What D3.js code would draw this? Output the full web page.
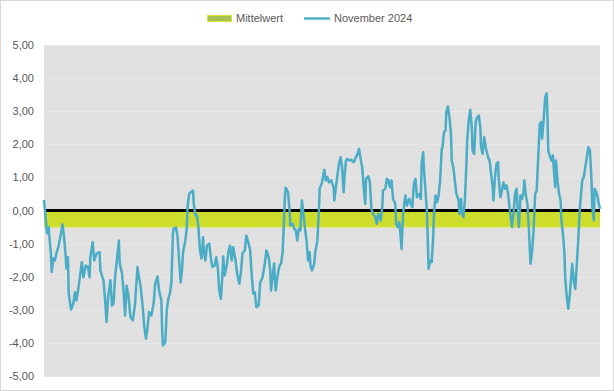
<!DOCTYPE html>
<html>
<head>
<meta charset="utf-8">
<script src="https://cdn.jsdelivr.net/npm/d3@7/dist/d3.min.js"></script>
<style>
  html, body { margin: 0; padding: 0; background: #fff; }
  svg { display: block; font-family: "Liberation Sans", Arial, sans-serif; }
</style>
</head>
<body>
<svg id="chart" width="614" height="391"></svg>
<script>
// ---------- Data ----------
const seriesNames = ["Mittelwert", "November 2024"];
const yTickValues = [5, 4, 3, 2, 1, 0, -1, -2, -3, -4, -5];
const mittelwertBand = [0, -0.5];
const nullLinie = 0;
const stunden = [
  0,3,4,6,7,9,10,12,14,16,19,22,24,26,28,29,31,32,35,38,40,42,45,49,51,54,57,59,60,63,
  65,68,72,73,77,79,81,83,86,88,90,92,95,97,98,101,103,105,107,109,112,115,118,121,123,125,128,130,132,134,
  136,139,142,144,147,149,152,153,154,157,159,161,163,165,167,168,171,173,175,177,179,180,183,185,186,188,190,193,194,196,
  198,200,202,204,206,207,209,211,214,216,218,221,223,225,227,229,231,232,234,237,239,241,243,245,248,250,253,255,257,260,
  262,265,267,269,271,273,275,278,280,283,286,288,291,293,294,296,298,300,303,305,307,309,311,312,313,316,318,319,322,324,
  326,328,330,332,334,336,338,340,342,344,345,347,350,351,354,356,357,360,363,365,367,369,372,375,376,378,380,382,384,386,
  388,389,391,393,395,398,401,403,406,408,410,412,414,416,417,420,422,424,426,429,431,433,436,438,439,442,444,446,448,450,
  452,455,456,458,460,461,463,465,467,468,470,473,475,477,479,481,483,486,488,489,491,492,494,496,497,498,500,502,504,505,
  507,509,511,513,515,516,518,520,521,523,525,527,528,530,532,534,537,538,540,541,543,545,547,548,550,552,554,555,557,559,
  560,563,565,566,568,570,572,575,577,579,581,582,584,586,588,589,591,593,595,597,599,601,603,606,608,610,612,613,615,617,
  619,621,622,624,626,628,630,632,634,636,638,640,642,644,645,647,649,651,652,653,655,657,659,662,663,665,667,669,670,672,
  674,675,677,679,681,683,684,686,688,690,692,694,697,699,701,703,705,707,709,710,712,713,716,718,720
];
const werteNov2024 = [
  0.32,-0.45,-0.69,-0.50,-0.81,-1.30,-1.86,-1.45,-1.51,-1.30,-1.06,-0.69,-0.42,-0.81,-1.36,-1.75,-1.41,-2.51,-2.99,-2.81,-2.47,-2.72,-2.27,-1.56,-2.02,-1.66,-1.71,-2.02,-1.41,-0.96,
  -1.51,-1.30,-1.26,-1.81,-2.11,-2.66,-3.37,-2.62,-2.11,-2.87,-2.81,-2.02,-1.36,-0.91,-1.60,-1.90,-2.42,-3.17,-2.27,-2.51,-3.22,-3.32,-2.81,-1.71,-2.02,-2.27,-2.96,-3.53,-3.87,-3.56,
  -3.07,-3.17,-2.81,-2.21,-1.99,-2.42,-2.72,-3.63,-4.08,-3.98,-3.02,-2.66,-2.51,-2.17,-0.69,-0.54,-0.51,-0.81,-1.51,-2.17,-1.71,-1.26,-0.91,-0.50,0.15,0.50,0.55,0.60,0.20,-0.15,
  -0.15,-0.50,-1.21,-1.45,-0.81,-1.21,-1.51,-1.06,-1.00,-1.41,-1.71,-1.66,-1.41,-1.71,-2.42,-2.67,-1.96,-1.39,-1.96,-1.60,-1.21,-1.06,-1.51,-1.11,-1.51,-1.90,-2.21,-1.86,-1.30,-1.21,
  -0.76,-1.00,-1.21,-1.96,-2.51,-2.47,-2.92,-2.87,-2.17,-2.02,-1.60,-1.21,-1.41,-1.81,-2.42,-2.02,-1.60,-2.42,-1.90,-1.66,-1.60,-1.26,-0.20,0.45,0.69,0.55,0.00,-0.45,-0.40,-0.55,
  -0.60,-0.91,-0.55,-0.60,0.30,-0.10,-0.55,-0.91,-1.51,-1.26,-1.66,-1.81,-1.60,-1.30,-0.91,0.00,0.66,0.85,1.23,0.91,1.01,0.85,0.91,0.70,0.30,0.70,1.06,1.41,1.61,1.31,
  0.55,0.96,1.51,1.56,1.51,1.53,1.46,1.56,1.71,1.86,1.56,1.31,0.70,0.20,0.96,1.03,0.85,0.05,-0.10,-0.20,-0.40,-0.10,-0.30,0.10,0.60,0.66,0.96,0.91,0.70,0.91,
  0.35,0.20,-0.40,-0.50,-0.35,-0.55,-1.16,-0.10,0.30,0.45,0.15,0.35,0.20,0.10,0.81,0.96,0.40,0.50,0.35,1.41,1.76,1.26,0.60,-0.10,-0.91,-1.76,-1.51,-1.56,-0.81,-0.10,
  0.45,0.25,0.45,0.91,1.86,1.91,2.37,2.42,2.97,3.14,2.82,2.32,1.51,1.31,0.91,0.50,0.30,-0.10,0.35,-0.05,-0.20,0.30,1.41,2.11,2.72,3.04,2.52,1.81,1.71,2.67,
  2.77,2.87,2.52,1.91,1.71,2.21,1.91,1.61,1.51,1.11,0.70,0.30,1.01,1.41,1.46,0.91,0.40,0.60,0.85,0.66,0.76,0.50,0.05,-0.50,-0.10,0.50,0.66,0.20,-0.50,0.45,
  0.35,0.55,0.91,0.45,0.20,-0.60,-1.61,-1.26,-0.60,0.50,0.60,1.61,2.62,2.67,2.17,2.72,3.42,3.54,2.82,1.81,1.66,1.51,1.66,0.70,1.51,0.91,0.50,0.30,-0.30,-0.70,
  -1.31,-2.06,-2.62,-2.97,-2.52,-1.91,-1.61,-2.11,-2.37,-1.61,-0.81,0.10,0.91,1.01,1.31,1.61,1.91,1.81,0.91,0.10,-0.30,0.66,0.50,0.25,0.05
];

// ---------- Layout ----------
const W = 614, H = 391;
const plot = { left: 44, right: 600, top: 45, bottom: 376 };
const svg = d3.select("#chart");

const x = d3.scaleLinear().domain([0, 720]).range([plot.left, plot.right]);
const y = d3.scaleLinear().domain([-5, 5]).range([plot.bottom, plot.top]);

const de = d3.formatLocale({ decimal: ",", thousands: ".", grouping: [3], currency: ["", " €"], minus: "-" });
const fmt = de.format(".2f");

// outer border
svg.append("rect").attr("x", 0.5).attr("y", 0.5).attr("width", W - 1).attr("height", H - 1)
  .attr("fill", "#fff").attr("stroke", "#d9d9d9");

// hatch pattern
const defs = svg.append("defs");
const pat = defs.append("pattern").attr("id", "hatch").attr("patternUnits", "userSpaceOnUse")
  .attr("width", 4).attr("height", 4);
pat.append("rect").attr("width", 4).attr("height", 4).attr("fill", "#e2e2e2");
pat.append("path").attr("d", "M-1,-1 L5,5 M-1,3 L1,5 M3,-1 L5,1").attr("stroke", "#dcdcdc").attr("stroke-width", 1);

svg.append("rect")
  .attr("x", plot.left).attr("y", plot.top)
  .attr("width", plot.right - plot.left).attr("height", plot.bottom - plot.top)
  .attr("fill", "url(#hatch)");

// gridlines
svg.append("g").selectAll("line").data(yTickValues).join("line")
  .attr("x1", plot.left).attr("x2", plot.right)
  .attr("y1", d => Math.round(y(d)) + 0.5).attr("y2", d => Math.round(y(d)) + 0.5)
  .attr("stroke", "#e7e7e7").attr("stroke-width", 1);

// Mittelwert band
svg.append("rect")
  .attr("x", plot.left).attr("width", plot.right - plot.left)
  .attr("y", y(mittelwertBand[0])).attr("height", y(mittelwertBand[1]) - y(mittelwertBand[0]))
  .attr("fill", "#cedd2b");
svg.append("line")
  .attr("x1", plot.left).attr("x2", plot.right)
  .attr("y1", y(mittelwertBand[1])).attr("y2", y(mittelwertBand[1]))
  .attr("stroke", "#dfe758").attr("stroke-width", 1.2);

// zero line
svg.append("line")
  .attr("x1", plot.left).attr("x2", plot.right)
  .attr("y1", y(nullLinie)).attr("y2", y(nullLinie))
  .attr("stroke", "#000").attr("stroke-width", 3);

// series line
const data = stunden.map((h, i) => ({ h, v: werteNov2024[i] }));
svg.append("path").datum(data)
  .attr("fill", "none").attr("stroke", "#4bacc6").attr("stroke-width", 2.5)
  .attr("stroke-linejoin", "round")
  .attr("d", d3.line().x(d => x(d.h)).y(d => y(d.v)));

// y axis
const yAxis = d3.axisLeft(y).tickValues(yTickValues).tickFormat(fmt).tickSize(0).tickPadding(10);
const gy = svg.append("g").attr("transform", `translate(${plot.left},0)`).call(yAxis);
gy.select(".domain").remove();
gy.selectAll("text").attr("fill", "#595959").style("font-size", "11px")
  .style("font-family", "'Liberation Sans', Arial, sans-serif");

// legend
const lg = svg.append("g").style("font-size", "11px").attr("fill", "#595959");
lg.append("rect").attr("x", 207.5).attr("y", 15.5).attr("width", 24).attr("height", 6)
  .attr("fill", "#a6c250").attr("stroke", "#dde23a").attr("stroke-width", 1);
lg.append("text").attr("x", 236).attr("y", 22).text(seriesNames[0]);
lg.append("line").attr("x1", 304).attr("x2", 330).attr("y1", 18.5).attr("y2", 18.5)
  .attr("stroke", "#4bacc6").attr("stroke-width", 2.4);
lg.append("text").attr("x", 334).attr("y", 22).text(seriesNames[1]);
</script>
</body>
</html>
